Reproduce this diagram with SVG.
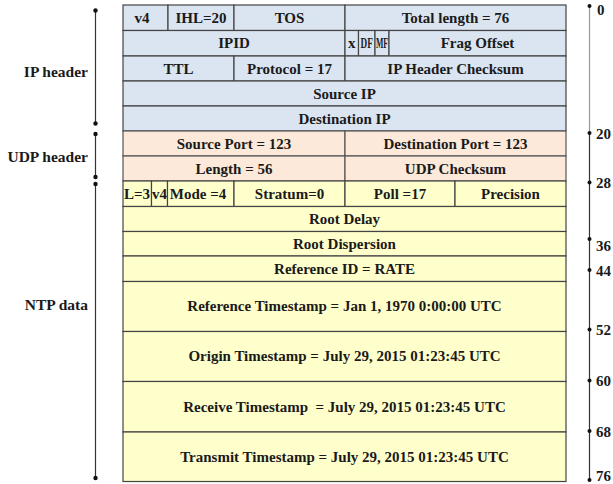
<svg xmlns="http://www.w3.org/2000/svg" width="613" height="484" viewBox="0 0 613 484">
<style>
.ip{fill:#dbe5f1;stroke:#444;stroke-width:1.2}
.udp{fill:#fde9d9;stroke:#555;stroke-width:1.2}
.ntp{fill:#ffffcc;stroke:#444;stroke-width:1.2}
text{font-family:"Liberation Serif","Times New Roman",serif;font-weight:bold;font-size:15px;fill:#1a1a1a}
.c{text-anchor:middle}
.sm{font-size:14px}
.lab{text-anchor:end;font-size:15.5px}
.num{font-size:15px}
.ln{stroke:#333;stroke-width:1.2;fill:none}
.dot{fill:#111}
</style>
<rect width="613" height="484" fill="#fff"/>
<g id="ip-header">
<g id="n-v4"><rect class="ip" x="123" y="5" width="45" height="25.5"/><text class="c" x="142" y="22.5">v4</text></g>
<g id="n-ihl"><rect class="ip" x="168" y="5" width="66" height="25.5"/><text class="c" x="201" y="22.5">IHL=20</text></g>
<g id="n-tos"><rect class="ip" x="234" y="5" width="111" height="25.5"/><text class="c" x="289.5" y="22.5">TOS</text></g>
<g id="n-totlen"><rect class="ip" x="345" y="5" width="221" height="25.5"/><text class="c" x="455.5" y="22.5">Total length = 76</text></g>
<g id="n-ipid"><rect class="ip" x="123" y="30.5" width="222" height="25.5"/><text class="c" x="234" y="48">IPID</text></g>
<g id="n-x"><rect class="ip" x="345" y="30.5" width="13.5" height="25.5"/><text class="c" x="351.8" y="48">x</text></g>
<g id="n-df"><rect class="ip" x="358.5" y="30.5" width="16.5" height="25.5"/><text class="c sm" transform="translate(366.75 48) scale(0.66 1)" x="0" y="0">DF</text></g>
<g id="n-mf"><rect class="ip" x="375" y="30.5" width="14" height="25.5"/><text class="c sm" transform="translate(382 48) scale(0.56 1)" x="0" y="0">MF</text></g>
<g id="n-frag"><rect class="ip" x="389" y="30.5" width="177" height="25.5"/><text class="c" x="477.5" y="48">Frag Offset</text></g>
<g id="n-ttl"><rect class="ip" x="123" y="56" width="111" height="25"/><text class="c" x="178.5" y="73.5">TTL</text></g>
<g id="n-proto"><rect class="ip" x="234" y="56" width="111" height="25"/><text class="c" x="289.5" y="73.5">Protocol = 17</text></g>
<g id="n-ipcsum"><rect class="ip" x="345" y="56" width="221" height="25"/><text class="c" x="455.5" y="73.5">IP Header Checksum</text></g>
<g id="n-srcip"><rect class="ip" x="123" y="81" width="443" height="25"/><text class="c" x="344.5" y="98.5">Source IP</text></g>
<g id="n-dstip"><rect class="ip" x="123" y="106" width="443" height="25"/><text class="c" x="344.5" y="123.5">Destination IP</text></g>
</g>
<g id="udp-header">
<g id="n-sport"><rect class="udp" x="123" y="131" width="222" height="25"/><text class="c" x="234" y="148.5">Source Port = 123</text></g>
<g id="n-dport"><rect class="udp" x="345" y="131" width="221" height="25"/><text class="c" x="455.5" y="148.5">Destination Port = 123</text></g>
<g id="n-len"><rect class="udp" x="123" y="156" width="222" height="25"/><text class="c" x="234" y="173.5">Length = 56</text></g>
<g id="n-udpcsum"><rect class="udp" x="345" y="156" width="221" height="25"/><text class="c" x="455.5" y="173.5">UDP Checksum</text></g>
</g>
<g id="ntp-data">
<g id="n-li"><rect class="ntp" x="123" y="181" width="28.5" height="25.5"/><text class="c" x="137" y="198.5">L=3</text></g>
<g id="n-vn"><rect class="ntp" x="151.5" y="181" width="16" height="25.5"/><text class="c" x="159.5" y="198.5">v4</text></g>
<g id="n-mode"><rect class="ntp" x="167.5" y="181" width="66.5" height="25.5"/><text class="c" x="198" y="198.5">Mode =4</text></g>
<g id="n-stratum"><rect class="ntp" x="234" y="181" width="111" height="25.5"/><text class="c" x="289.5" y="198.5">Stratum=0</text></g>
<g id="n-poll"><rect class="ntp" x="345" y="181" width="110" height="25.5"/><text class="c" x="400" y="198.5">Poll =17</text></g>
<g id="n-prec"><rect class="ntp" x="455" y="181" width="111" height="25.5"/><text class="c" x="510.5" y="198.5">Precision</text></g>
<g id="n-rdelay"><rect class="ntp" x="123" y="206.5" width="443" height="25"/><text class="c" x="344.5" y="224">Root Delay</text></g>
<g id="n-rdisp"><rect class="ntp" x="123" y="231.5" width="443" height="24.5"/><text class="c" x="344.5" y="248.5">Root Dispersion</text></g>
<g id="n-refid"><rect class="ntp" x="123" y="256" width="443" height="25.5"/><text class="c" x="344.5" y="273.5">Reference ID = RATE</text></g>
<g id="n-refts"><rect class="ntp" x="123" y="281.5" width="443" height="50"/><text class="c" x="344.5" y="311">Reference Timestamp = Jan 1, 1970 0:00:00 UTC</text></g>
<g id="n-origts"><rect class="ntp" x="123" y="331.5" width="443" height="50"/><text class="c" x="344.5" y="361">Origin Timestamp = July 29, 2015 01:23:45 UTC</text></g>
<g id="n-recvts"><rect class="ntp" x="123" y="381.5" width="443" height="50.5"/><text class="c" x="344.5" y="412" xml:space="preserve" style="white-space:pre">Receive Timestamp  = July 29, 2015 01:23:45 UTC</text></g>
<g id="n-xmitts"><rect class="ntp" x="123" y="432" width="443" height="49.5"/><text class="c" x="344.5" y="462">Transmit Timestamp = July 29, 2015 01:23:45 UTC</text></g>
</g>
<g id="labels">
<text class="lab" x="88" y="77">IP header</text>
<text class="lab" x="88" y="161.5">UDP header</text>
<text class="lab" x="88" y="310">NTP data</text>
</g>
<g id="connectors">
<line class="ln" x1="95.5" y1="10.5" x2="95.5" y2="123.5"/>
<line class="ln" x1="95.5" y1="134" x2="95.5" y2="177"/>
<line class="ln" x1="95.5" y1="184" x2="95.5" y2="478"/>
<circle class="dot" cx="95.5" cy="10.5" r="2.2"/>
<circle class="dot" cx="95.5" cy="123.5" r="2.2"/>
<circle class="dot" cx="95.5" cy="134" r="2.2"/>
<circle class="dot" cx="95.5" cy="177" r="2.2"/>
<circle class="dot" cx="95.5" cy="184" r="2.2"/>
<circle class="dot" cx="95.5" cy="478" r="2.2"/>
<line x1="589.5" y1="6" x2="589.5" y2="133" stroke="#999" stroke-width="1.2"/>
<line class="ln" x1="589.5" y1="133" x2="589.5" y2="480"/>
<circle class="dot" cx="589.5" cy="6" r="2"/>
<circle class="dot" cx="589.5" cy="133" r="2"/>
<circle class="dot" cx="589.5" cy="182.5" r="2"/>
<circle class="dot" cx="589.5" cy="239" r="2"/>
<circle class="dot" cx="589.5" cy="270" r="2"/>
<circle class="dot" cx="589.5" cy="329.5" r="2"/>
<circle class="dot" cx="589.5" cy="380.5" r="2"/>
<circle class="dot" cx="589.5" cy="431" r="2"/>
<circle class="dot" cx="589.5" cy="480" r="2"/>
</g>
<g id="scale">
<text class="num" x="597" y="15">0</text>
<text class="num" x="596" y="139">20</text>
<text class="num" x="596" y="188">28</text>
<text class="num" x="596" y="251">36</text>
<text class="num" x="596" y="276">44</text>
<text class="num" x="596" y="335">52</text>
<text class="num" x="596" y="386">60</text>
<text class="num" x="596" y="437">68</text>
<text class="num" x="596" y="481">76</text>
</g>
</svg>
